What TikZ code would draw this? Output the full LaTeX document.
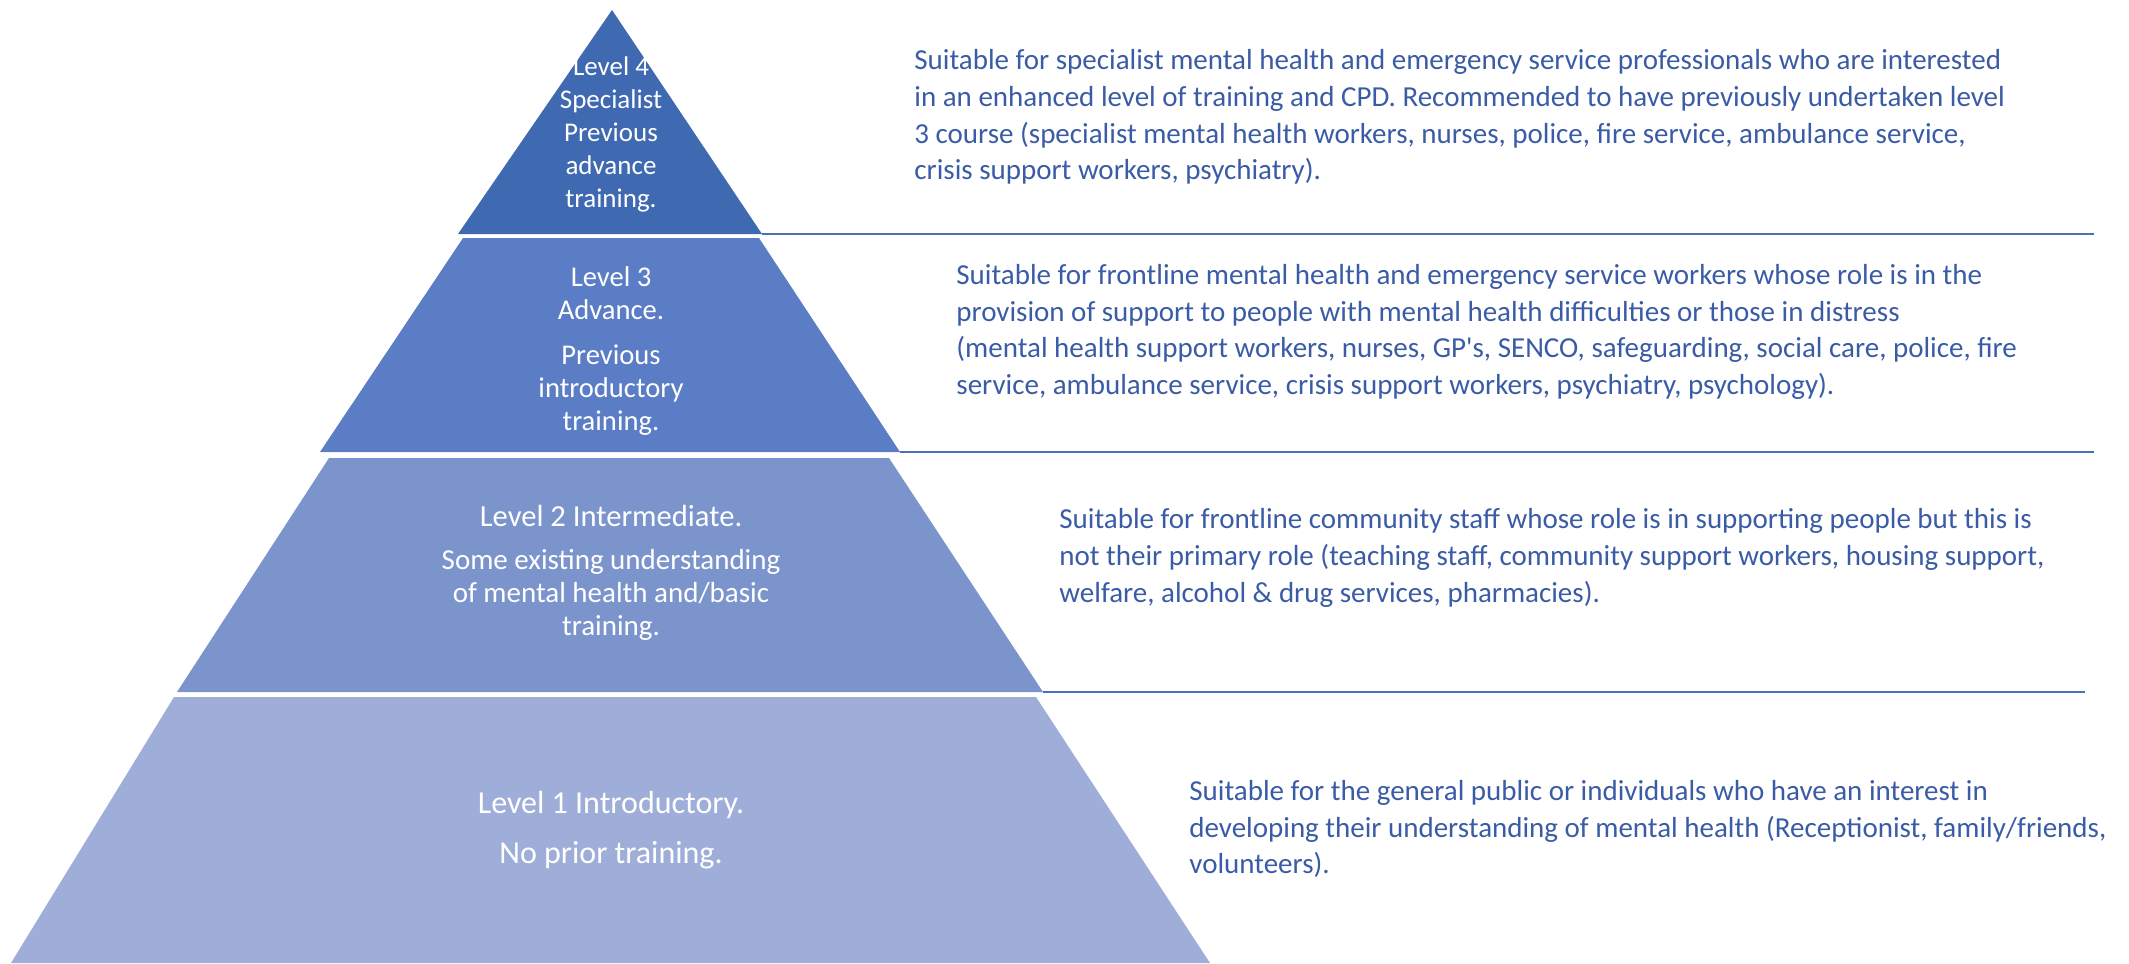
\documentclass[tikz,border=0pt]{standalone}
\usepackage{fontspec}
\setmainfont{Carlito}
\usetikzlibrary{positioning, calc}
\definecolor{tierfour}{HTML}{3F69B1}
\definecolor{tierthree}{HTML}{5A7DC5}
\definecolor{tiertwo}{HTML}{7B95CC}
\definecolor{tierone}{HTML}{9FAED8}
\definecolor{infoblue}{HTML}{3A5BA6}
\definecolor{ruleblue}{HTML}{4A70B8}
\tikzset{
  tiertext/.style={
    text=white,
    align=center,
    inner sep=0pt,
    font=\fontsize{14.5}{16.5}\selectfont
  },
  tierinfo/.style={
    text=infoblue,
    align=left,
    anchor=west,
    inner sep=0pt,
    font=\fontsize{14.5}{18.4}\selectfont
  },
  divider/.style={
    draw=ruleblue,
    line width=1pt
  }
}

\begin{document}
\begin{tikzpicture}[x=0.5pt, y=-0.5pt]
\useasboundingbox (0,0) rectangle (2129,963);

% pyramid corners
\coordinate (top4) at (612,10);
\coordinate (b4l) at (458,234);
\coordinate (b4r) at (762,234);
\coordinate (t3l) at (463,238);
\coordinate (t3r) at (759,238);
\coordinate (b3l) at (320,452);
\coordinate (b3r) at (900,452);
\coordinate (t2l) at (329,458);
\coordinate (t2r) at (889,458);
\coordinate (b2l) at (177,692);
\coordinate (b2r) at (1043,692);
\coordinate (t1l) at (174,697);
\coordinate (t1r) at (1036,697);
\coordinate (b1l) at (11,963);
\coordinate (b1r) at (1210,963);

% layers
\fill[tierfour] (top4) -- (b4r) -- (b4l) -- cycle;
\fill[tierthree] (t3l) -- (t3r) -- (b3r) -- (b3l) -- cycle;
\fill[tiertwo] (t2l) -- (t2r) -- (b2r) -- (b2l) -- cycle;
\fill[tierone] (t1l) -- (t1r) -- (b1r) -- (b1l) -- cycle;

% labels in the pyramid
\node[tiertext, font=\fontsize{13.5}{16.5}\selectfont] (lab4) at (611,134)
  {Level 4\\ Specialist\\ Previous\\ advance\\ training.};
\node[tiertext, font=\fontsize{14.3}{16.5}\selectfont] (lab3) at (611,351)
  {Level 3\\ Advance.\\[6pt] Previous\\ introductory\\ training.};
\node[tiertext] (lab2) at (611,573)
  {{\fontsize{15.3}{16.5}\selectfont Level 2 Intermediate.}\\[5pt] Some existing understanding\\ of mental health and/basic\\ training.};
\node[tiertext, font=\fontsize{16}{17}\selectfont] (lab1) at (611,830)
  {Level 1 Introductory.\\[8pt] No prior training.};

% descriptions
\node[tierinfo] (info4) at (914,117)
  {Suitable for specialist mental health and emergency service professionals who are interested\\
   in an enhanced level of training and CPD. Recommended to have previously undertaken level\\
   3 course (specialist mental health workers, nurses, police, fire service, ambulance service,\\
   crisis support workers, psychiatry).};
\node[tierinfo] (info3) at (956,332)
  {Suitable for frontline mental health and emergency service workers whose role is in the\\
   provision of support to people with mental health difficulties or those in distress\\
   (mental health support workers, nurses, GP\textquotesingle s, SENCO, safeguarding, social care, police, fire\\
   service, ambulance service, crisis support workers, psychiatry, psychology).};
\node[tierinfo] (info2) at (1059,558)
  {Suitable for frontline community staff whose role is in supporting people but this is\\
   not their primary role (teaching staff, community support workers, housing support,\\
   welfare, alcohol \& drug services, pharmacies).};
\node[tierinfo] (info1) at (1189,829)
  {Suitable for the general public or individuals who have an interest in\\
   developing their understanding of mental health (Receptionist, family/friends,\\
   volunteers).};

% dividers
\coordinate (end4) at (2094,234);
\coordinate (end3) at (2094,452);
\coordinate (end2) at (2085,692);
\draw[divider] (b4r) -- (end4);
\draw[divider] (b3r) -- (end3);
\draw[divider] (b2r) -- (end2);

\end{tikzpicture}
\end{document}
